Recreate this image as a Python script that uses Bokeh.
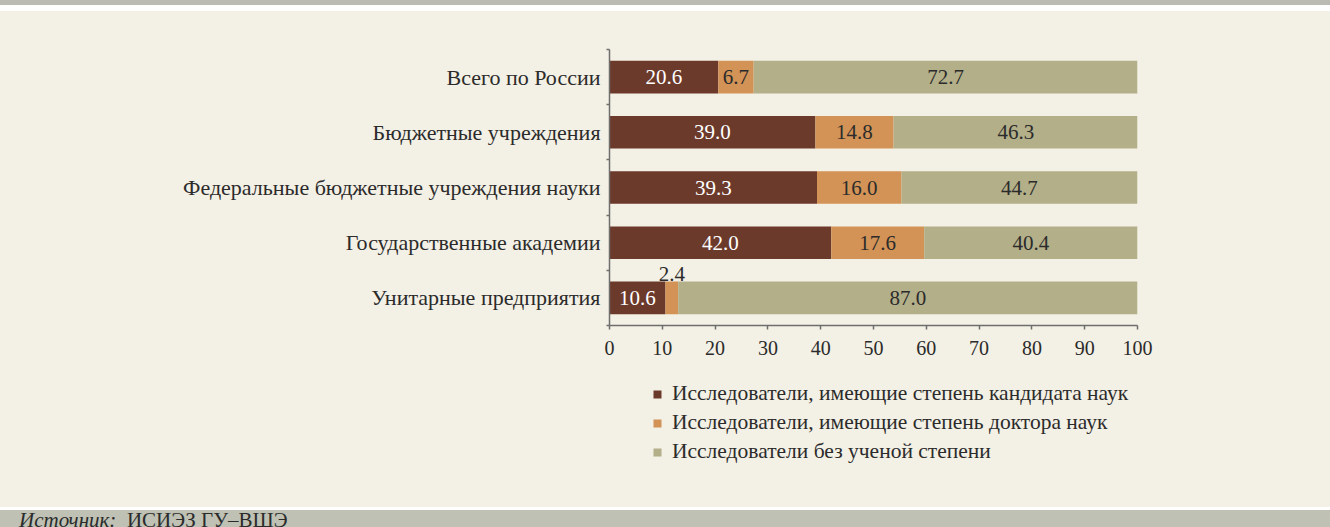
from bokeh.plotting import figure
from bokeh.models import Range1d, FixedTicker, Legend, LegendItem, Div
from bokeh.layouts import column
from bokeh.embed import file_html
from bokeh.resources import INLINE
from bokeh.core.properties import value

# ---- data ----
categories = [
    "Всего по России",
    "Бюджетные учреждения",
    "Федеральные бюджетные учреждения науки",
    "Государственные академии",
    "Унитарные предприятия",
]
candidates = [20.6, 39.0, 39.3, 42.0, 10.6]
doctors = [6.7, 14.8, 16.0, 17.6, 2.4]
no_degree = [72.7, 46.3, 44.7, 40.4, 87.0]
series_names = [
    "Исследователи, имеющие степень кандидата наук",
    "Исследователи, имеющие степень доктора наук",
    "Исследователи без ученой степени",
]
x_ticks = [0, 10, 20, 30, 40, 50, 60, 70, 80, 90, 100]
source_label = "Источник:"
source_text = "ИСИЭЗ ГУ–ВШЭ"

# ---- style ----
BROWN = "#6c3a2b"
ORANGE = "#d39356"
KHAKI = "#b3af89"
CREAM = "#f3f0e5"
GREY = "#bec1b3"
GREY_TOP = "#bcbbb3"
TEXT = "#2b2b2b"
AXIS = "#6e6e6e"
FONT = "Liberation Serif"

W = 1330
BL, BR = 609, 193   # frame borders (left / right)
n = len(categories)
ys = [n - 1 - i for i in range(n)]  # top category first


def plain(fig, bg):
    fig.background_fill_color = None
    fig.border_fill_color = bg
    fig.outline_line_color = None
    fig.grid.visible = False


def band(h, color):
    return Div(text="", width=W, height=h, margin=0, styles={"background-color": color})


# main chart
p = figure(width=W, height=359, x_range=Range1d(0, 100), y_range=Range1d(-0.5, n - 0.5),
           output_backend="svg", toolbar_location=None,
           min_border_left=BL, min_border_right=BR, min_border_top=38, min_border_bottom=45)
plain(p, CREAM)

series = [candidates, doctors, no_degree]
colors = [BROWN, ORANGE, KHAKI]
label_colors = ["white", TEXT, TEXT]
lefts = [0.0] * n
for vals, col, lc in zip(series, colors, label_colors):
    rights = [l + v for l, v in zip(lefts, vals)]
    p.hbar(y=ys, left=lefts, right=rights, height=0.59, fill_color=col, line_color=None)
    tx, ty, tt, tc = [], [], [], []
    for l, v, y in zip(lefts, vals, ys):
        tx.append(l + v / 2)
        tt.append(f"{v:.1f}")
        small = v < 5
        ty.append(y + 0.44 if small else y)
        tc.append(TEXT if small else lc)
    p.text(x=tx, y=ty, text=tt, text_align="center", text_baseline="middle",
           text_font=value(FONT), text_font_size="21px", text_color=tc)
    lefts = rights

xa = p.xaxis[0]
xa.ticker = FixedTicker(ticks=x_ticks)
xa.axis_line_color = AXIS
xa.axis_line_width = 1.5
xa.major_tick_line_color = AXIS
xa.major_tick_line_width = 1.5
xa.major_tick_out = 4
xa.major_tick_in = 0
xa.minor_tick_line_color = None
xa.major_label_text_font = FONT
xa.major_label_text_font_size = "20px"
xa.major_label_text_color = TEXT
xa.major_label_standoff = 11

ya = p.yaxis[0]
ya.ticker = FixedTicker(ticks=ys, minor_ticks=[k - 0.5 for k in range(n + 1)])
ya.major_label_overrides = {y: c for y, c in zip(ys, categories)}
ya.axis_line_color = AXIS
ya.axis_line_width = 1.5
ya.major_tick_line_color = None
ya.major_tick_out = 0
ya.major_tick_in = 0
ya.minor_tick_line_color = AXIS
ya.minor_tick_line_width = 1.5
ya.minor_tick_out = 3
ya.minor_tick_in = 0
ya.major_label_text_font = FONT
ya.major_label_text_font_size = "22px"
ya.major_label_text_color = TEXT
ya.major_label_standoff = 6

# legend area (frame aligned with the chart frame)
fl = figure(width=W, height=137, x_range=Range1d(0, 1), y_range=Range1d(0, 1),
            x_axis_location=None, y_axis_location=None,
            min_border_left=BL, min_border_right=BR, min_border_top=0, min_border_bottom=0,
            output_backend="svg", toolbar_location=None)
plain(fl, CREAM)
items = []
for name, col in zip(series_names, colors):
    r = fl.scatter(x=[-5], y=[-5], marker="square", size=8, fill_color=col, line_color=None)
    items.append(LegendItem(label=name, renderers=[r]))
legend = Legend(items=items, location=(38, 43), orientation="vertical",
                glyph_width=20, glyph_height=20, label_height=20, spacing=4,
                padding=0, margin=0, border_line_color=None, background_fill_alpha=0,
                label_text_font=FONT, label_text_font_size="21.5px", label_text_color=TEXT,
                label_standoff=5)
fl.add_layout(legend)

# bottom source band
fb = Div(text=f"<i>{source_label}</i>&nbsp; {source_text}", width=W, height=17, margin=0,
         styles={"background-color": GREY, "font-family": FONT, "font-size": "21px",
                 "color": TEXT, "padding-left": "19px", "line-height": "21px",
                 "overflow": "hidden", "box-sizing": "border-box", "white-space": "nowrap"})

layout = column(band(5, GREY_TOP), band(6, "white"), p, fl, band(3, "white"), fb,
                styles={"background-color": CREAM})
open("out.html", "w").write(file_html(layout, INLINE))
